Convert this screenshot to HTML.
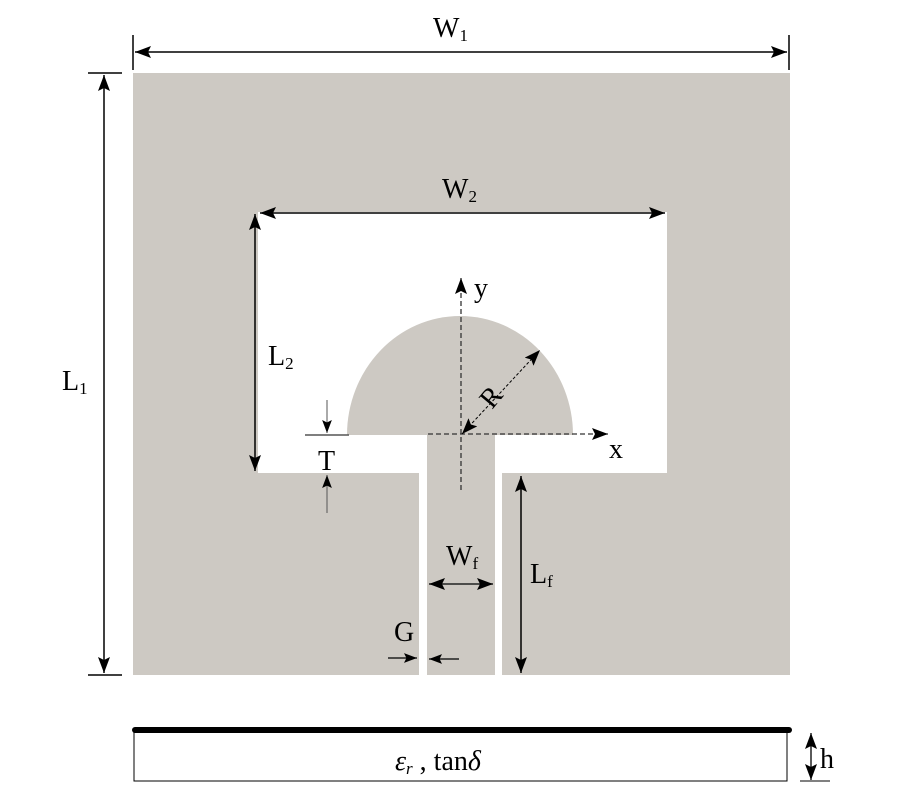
<!DOCTYPE html>
<html><head><meta charset="utf-8"><style>body{margin:0;background:#fff}svg{display:block}text{font-family:"Liberation Serif",serif;fill:#000}</style></head>
<body>
<svg width="900" height="800" viewBox="0 0 900 800" xmlns="http://www.w3.org/2000/svg">
<defs>
<marker id="a" viewBox="0 0 16 12" refX="16" refY="6" markerWidth="16" markerHeight="12" markerUnits="userSpaceOnUse" orient="auto-start-reverse"><path d="M0,0 L16,6 L0,12 L3,6 Z" fill="#000"/></marker>
<marker id="s" viewBox="0 0 16 12" refX="16" refY="6" markerWidth="13" markerHeight="10" markerUnits="userSpaceOnUse" orient="auto-start-reverse"><path d="M0,0 L16,6 L0,12 L3,6 Z" fill="#000"/></marker>
</defs>
<rect x="133" y="73" width="657" height="602" fill="#cdc9c3"/>
<rect x="258" y="212" width="409" height="261" fill="#fff"/>
<rect x="419" y="435" width="83" height="241" fill="#fff"/>
<rect x="427" y="435" width="68" height="240" fill="#cdc9c3"/>
<path d="M347,435 A113,119 0 0 1 573,435 Z" fill="#cdc9c3"/>
<!-- axes -->
<line x1="428" y1="434" x2="608" y2="434" stroke="#333" stroke-width="1.3" stroke-dasharray="5,3" marker-end="url(#a)"/>
<line x1="461" y1="490" x2="461" y2="278" stroke="#333" stroke-width="1.3" stroke-dasharray="5,3" marker-end="url(#a)"/>
<text x="474" y="297" font-size="28">y</text>
<text x="609" y="458" font-size="28">x</text>
<line x1="462" y1="434" x2="540" y2="350" stroke="#000" stroke-width="1" stroke-dasharray="3,2" marker-start="url(#a)" marker-end="url(#a)"/>
<text x="0" y="0" font-size="28" transform="translate(492,410) rotate(-50)">R</text>
<!-- W1 -->
<line x1="133" y1="35" x2="133" y2="70" stroke="#000" stroke-width="1.5"/>
<line x1="789" y1="35" x2="789" y2="70" stroke="#000" stroke-width="1.5"/>
<line x1="135" y1="52" x2="787" y2="52" stroke="#000" stroke-width="1.5" marker-start="url(#a)" marker-end="url(#a)"/>
<text x="433" y="37" font-size="28">W<tspan font-size="17" dy="4">1</tspan></text>
<!-- L1 -->
<line x1="88" y1="73" x2="122" y2="73" stroke="#000" stroke-width="1.5"/>
<line x1="88" y1="675" x2="122" y2="675" stroke="#000" stroke-width="1.5"/>
<line x1="104" y1="75" x2="104" y2="673" stroke="#000" stroke-width="1.5" marker-start="url(#a)" marker-end="url(#a)"/>
<text x="62" y="390" font-size="28">L<tspan font-size="17" dy="4">1</tspan></text>
<!-- W2 -->
<line x1="260" y1="213" x2="665" y2="213" stroke="#000" stroke-width="1.5" marker-start="url(#a)" marker-end="url(#a)"/>
<text x="442" y="198" font-size="28">W<tspan font-size="17" dy="4">2</tspan></text>
<!-- L2 -->
<line x1="255" y1="214" x2="255" y2="471" stroke="#000" stroke-width="1.5" marker-start="url(#a)" marker-end="url(#a)"/>
<text x="268" y="365" font-size="28">L<tspan font-size="17" dy="4">2</tspan></text>
<!-- T -->
<line x1="305" y1="435" x2="349" y2="435" stroke="#555" stroke-width="1.5"/>
<line x1="327" y1="400" x2="327" y2="433" stroke="#555" stroke-width="1" marker-end="url(#s)"/>
<line x1="327" y1="513" x2="327" y2="475" stroke="#555" stroke-width="1" marker-end="url(#s)"/>
<text x="318" y="470" font-size="28">T</text>
<!-- Wf -->
<line x1="429" y1="584" x2="493" y2="584" stroke="#222" stroke-width="1.5" marker-start="url(#a)" marker-end="url(#a)"/>
<text x="446" y="565" font-size="28">W<tspan font-size="17" dy="4">f</tspan></text>
<!-- Lf -->
<line x1="521" y1="476" x2="521" y2="673" stroke="#000" stroke-width="1.5" marker-start="url(#a)" marker-end="url(#a)"/>
<text x="530" y="583" font-size="28">L<tspan font-size="17" dy="4">f</tspan></text>
<!-- G -->
<line x1="388" y1="658" x2="417" y2="658" stroke="#000" stroke-width="1.2" marker-end="url(#s)"/>
<line x1="459" y1="659" x2="429" y2="659" stroke="#000" stroke-width="1.2" marker-end="url(#s)"/>
<text x="394" y="641" font-size="28">G</text>
<!-- substrate -->
<rect x="134" y="731" width="653" height="50" fill="#fff" stroke="#000" stroke-width="1"/>
<line x1="135" y1="730" x2="789" y2="730" stroke="#000" stroke-width="6" stroke-linecap="round"/>
<text x="395" y="770" font-size="28" font-style="italic">ε<tspan font-size="17" dy="4">r</tspan><tspan font-style="normal" dy="-4">  , tan</tspan>δ</text>
<line x1="800" y1="781" x2="830" y2="781" stroke="#000" stroke-width="1"/>
<line x1="811" y1="733" x2="811" y2="780" stroke="#000" stroke-width="1.3" marker-start="url(#a)" marker-end="url(#a)"/>
<text x="820" y="768" font-size="28">h</text>
</svg>
</body></html>
